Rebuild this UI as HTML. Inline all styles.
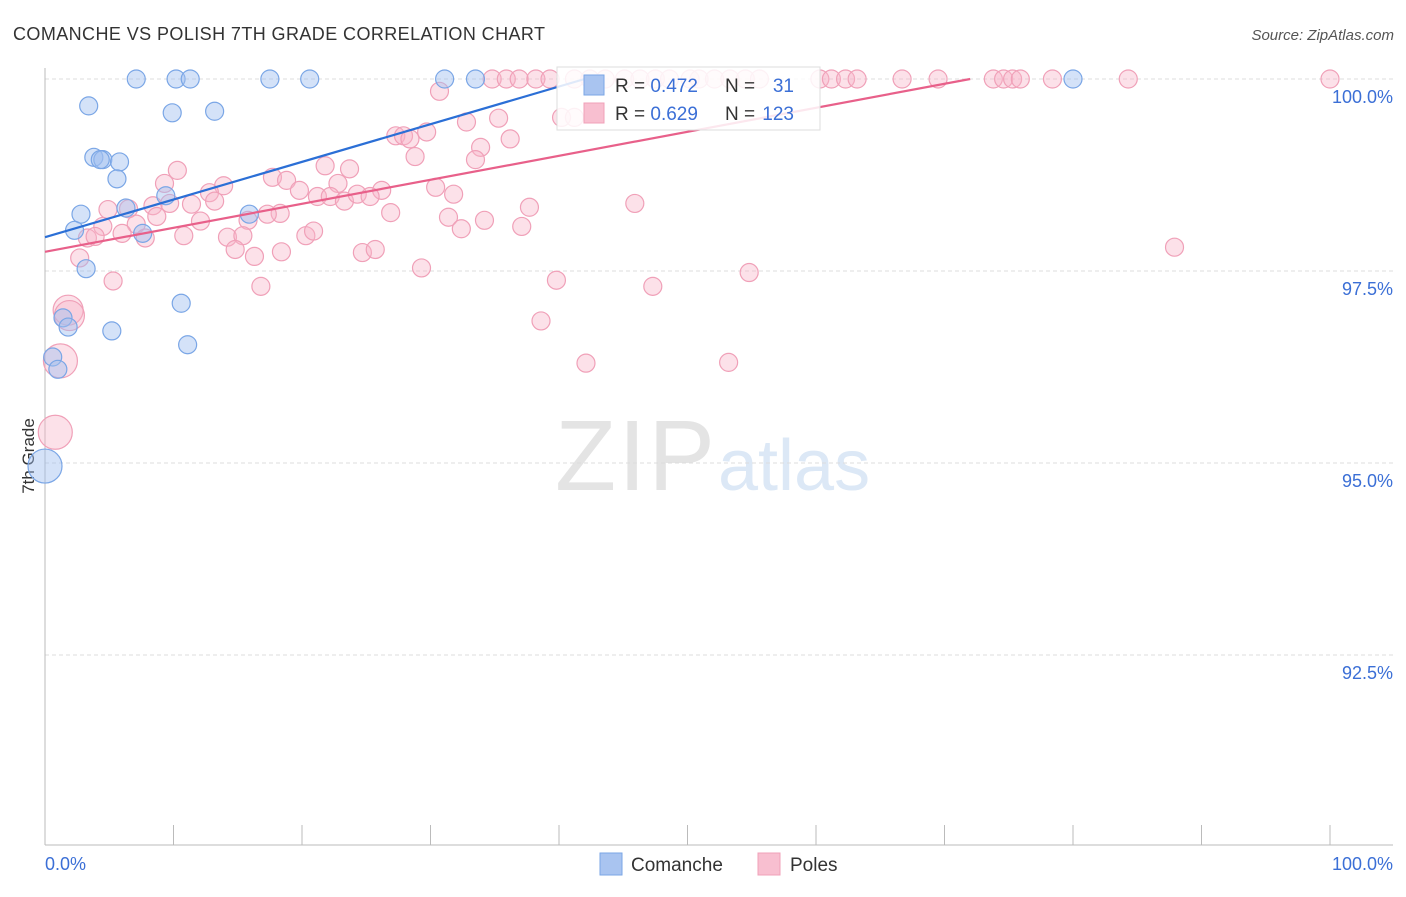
<!DOCTYPE html>
<html><head><meta charset="utf-8"><style>
body{margin:0;background:#fff;font-family:"Liberation Sans",sans-serif}
svg text{font-family:"Liberation Sans",sans-serif}
</style></head><body>
<svg id="c" width="1406" height="892">
<text x="13" y="40" font-size="18" fill="#333" textLength="532">COMANCHE VS POLISH 7TH GRADE CORRELATION CHART</text>
<text x="1394" y="40" font-size="15" fill="#555" font-style="italic" text-anchor="end">Source: ZipAtlas.com</text>
<text x="555" y="490" font-size="100" fill="#e4e4e4" textLength="160" font-family="Liberation Serif">ZIP</text>
<text x="718" y="490" font-size="72" fill="#dce8f6">atlas</text>
<text x="34" y="456" font-size="17" fill="#333" transform="rotate(-90 34 456)" text-anchor="middle">7th Grade</text>
<g id="grid"></g><g id="pts"></g><g id="lines"></g>
<g>
<rect x="557" y="67" width="263" height="63" fill="#fff" fill-opacity="0.85" stroke="#ddd"/>
<rect x="584" y="75" width="20" height="20" fill="#a9c4f0" stroke="#7aa6e6"/>
<rect x="584" y="103" width="20" height="20" fill="#f8bfd0" stroke="#f0a0b8"/>
<text x="615" y="92" font-size="19" fill="#333">R = <tspan fill="#3b6fd6">0.472</tspan></text>
<text x="725" y="92" font-size="19" fill="#333">N =</text>
<text x="794" y="92" font-size="19" fill="#3b6fd6" text-anchor="end">31</text>
<text x="615" y="120" font-size="19" fill="#333">R = <tspan fill="#3b6fd6">0.629</tspan></text>
<text x="725" y="120" font-size="19" fill="#333">N =</text>
<text x="794" y="120" font-size="19" fill="#3b6fd6" text-anchor="end">123</text>
</g>
<g>
<rect x="600" y="853" width="22" height="22" fill="#a9c4f0" stroke="#7aa6e6"/>
<text x="631" y="871" font-size="19" fill="#333">Comanche</text>
<rect x="758" y="853" width="22" height="22" fill="#f8bfd0" stroke="#f0a0b8"/>
<text x="790" y="871" font-size="19" fill="#333">Poles</text>
</g>
</svg>
<script>
const yTicks=[100,97.5,95,92.5];
const yTickLabels=["100.0%","97.5%","95.0%","92.5%"];
const xTickCount=10;
const blueX=[7.1,10.2,11.3,17.5,20.6,31.1,33.5,80.0,3.4,9.9,13.2,3.8,4.5,4.3,5.8,5.6,9.4,6.3,2.8,15.9,2.3,7.6,3.2,10.6,5.2,1.4,1.8,11.1,0.6,1.0,0];
const blueY=[100,100,100,100,100,100,100,100,99.65,99.56,99.58,98.98,98.95,98.95,98.92,98.70,98.48,98.32,98.24,98.24,98.03,97.99,97.53,97.08,96.72,96.89,96.77,96.54,96.38,96.22,94.96];
const blueR=[9,9,9,9,9,9,9,9,9,9,9,9,9,9,9,9,9,9,9,9,9,9,9,9,9,9,9,9,9,9,17];
const pinkX=[34.8,35.9,36.9,38.2,39.3,41.2,42.4,43.6,45.1,46.3,47.5,48.6,50.2,50.9,52.1,53.3,54.5,55.6,60.3,61.2,62.3,63.2,66.7,69.5,73.8,74.6,75.3,75.9,78.4,84.3,100,
 30.7,40.2,41.2,27.3,27.9,28.4,29.7,32.8,35.3,36.2,33.9,21.8,28.8,33.5,23.7,10.3,9.3,17.7,18.8,19.8,13.9,12.8,22.8,26.2,30.4,21.2,22.2,23.3,24.3,25.3,31.8,13.2,11.4,9.7,8.4,6.5,4.9,18.3,17.3,15.8,26.9,31.4,34.2,37.7,45.9,12.1,8.7,7.1,4.5,6.0,7.8,3.3,3.9,10.8,14.2,15.4,20.3,20.9,37.1,32.4,14.8,16.3,18.4,24.7,25.7,2.7,5.3,16.8,29.3,39.8,47.3,54.8,87.9,38.6,42.1,53.2,1.8,1.9,1.2,0.8];
const pinkY=[100,100,100,100,100,100,100,100,100,100,100,100,100,100,100,100,100,100,100,100,100,100,100,100,100,100,100,100,100,100,100,
 99.84,99.50,99.50,99.26,99.26,99.22,99.31,99.44,99.49,99.22,99.11,98.87,98.99,98.95,98.83,98.81,98.64,98.72,98.68,98.55,98.61,98.52,98.64,98.55,98.59,98.47,98.47,98.41,98.50,98.47,98.50,98.41,98.37,98.38,98.35,98.31,98.30,98.25,98.24,98.16,98.26,98.20,98.16,98.33,98.38,98.15,98.21,98.11,98.08,97.99,97.93,97.93,97.95,97.96,97.94,97.96,97.96,98.02,98.08,98.05,97.78,97.69,97.75,97.74,97.78,97.67,97.37,97.30,97.54,97.38,97.30,97.48,97.81,96.85,96.30,96.31,96.99,96.92,96.33,95.40];
const pinkR=pinkX.map(()=>9);
pinkR[107]=15;pinkR[108]=15;pinkR[109]=17;pinkR[110]=17;
const blueLine=[[0,97.94],[42.0,100]];
const pinkLine=[[0,97.75],[72.0,100]];
const X=v=>45+v*12.85, Y=v=>79+(100-v)*76.8;
const ns="http://www.w3.org/2000/svg";
function mk(t,a,p){const e=document.createElementNS(ns,t);for(const k in a)e.setAttribute(k,a[k]);p.appendChild(e);return e;}
const g=document.getElementById('grid');
yTicks.forEach((t,i)=>{
 const l=mk('line',{x1:45,x2:1393,y1:Y(t),y2:Y(t),stroke:'#ddd','stroke-dasharray':'4,3'},g);
 
 
 const tx=mk('text',{x:1393,y:Y(t)+24,'font-size':18,fill:'#3b6fd6','text-anchor':'end'},g);
 tx.textContent=yTickLabels[i];
 
 
});
const ax1=mk('line',{x1:45,x2:45,y1:68,y2:845,stroke:'#bbb'},g);


const ax2=mk('line',{x1:45,x2:1393,y1:845,y2:845,stroke:'#bbb'},g);


for(let i=0;i<=xTickCount;i++){const l=mk('line',{x1:X(i*10),x2:X(i*10),y1:825,y2:845,stroke:'#bbb'},g);
 
 }
const t0=mk('text',{x:45,y:870,'font-size':18,fill:'#3b6fd6'},g);t0.textContent='0.0%';


const t1=mk('text',{x:1393,y:870,'font-size':18,fill:'#3b6fd6','text-anchor':'end'},g);t1.textContent='100.0%';


const p=document.getElementById('pts');
pinkX.forEach((x,i)=>{const c=mk('circle',{cx:X(x),cy:Y(pinkY[i]),r:pinkR[i],fill:'#f8b4c8','fill-opacity':0.4,stroke:'#f0a0b8','stroke-width':1.2},p);
 
 });
blueX.forEach((x,i)=>{const c=mk('circle',{cx:X(x),cy:Y(blueY[i]),r:blueR[i],fill:'#a0bef0','fill-opacity':0.45,stroke:'#7aa6e6','stroke-width':1.2},p);
 
 });
const L=document.getElementById('lines');
const bl=mk('line',{x1:X(blueLine[0][0]),y1:Y(blueLine[0][1]),x2:X(blueLine[1][0]),y2:Y(blueLine[1][1]),stroke:'#2b6fd6','stroke-width':2.2},L);


const pl=mk('line',{x1:X(pinkLine[0][0]),y1:Y(pinkLine[0][1]),x2:X(pinkLine[1][0]),y2:Y(pinkLine[1][1]),stroke:'#e8608a','stroke-width':2.2},L);


</script>
</body></html>
